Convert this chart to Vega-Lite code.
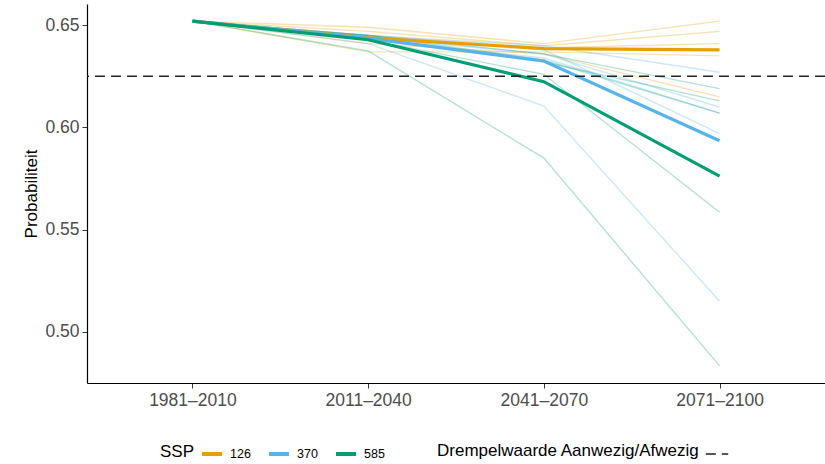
{
  "$schema": "https://vega.github.io/schema/vega-lite/v6.json",
  "width": 738,
  "height": 379,
  "autosize": {"type": "none"},
  "padding": {"left": 87, "top": 4, "right": 0, "bottom": 81},
  "background": "white",
  "config": {
    "view": {"stroke": null},
    "font": "Liberation Sans",
    "axis": {
      "grid": false,
      "domainColor": "#000000",
      "domainWidth": 1.2,
      "tickColor": "#333333",
      "tickSize": 5,
      "tickWidth": 1,
      "labelColor": "#4d4d4d",
      "labelFontSize": 17.5,
      "labelFont": "Liberation Sans",
      "titleFont": "Liberation Sans",
      "titleFontSize": 17,
      "titleFontWeight": "normal",
      "titleColor": "#000000"
    },
    "legend": {
      "titleFont": "Liberation Sans",
      "labelFont": "Liberation Sans",
      "titleFontWeight": "normal",
      "titleColor": "#000000",
      "labelColor": "#000000",
      "titleLimit": 500
    }
  },
  "datasets": {
    "gcm": [
      {"ssp": "126", "model": "126-1", "periode": "1981–2010", "p": 0.652},
      {"ssp": "126", "model": "126-1", "periode": "2011–2040", "p": 0.649},
      {"ssp": "126", "model": "126-1", "periode": "2041–2070", "p": 0.641},
      {"ssp": "126", "model": "126-1", "periode": "2071–2100", "p": 0.652},
      {"ssp": "126", "model": "126-2", "periode": "1981–2010", "p": 0.652},
      {"ssp": "126", "model": "126-2", "periode": "2011–2040", "p": 0.647},
      {"ssp": "126", "model": "126-2", "periode": "2041–2070", "p": 0.640},
      {"ssp": "126", "model": "126-2", "periode": "2071–2100", "p": 0.647},
      {"ssp": "126", "model": "126-3", "periode": "1981–2010", "p": 0.652},
      {"ssp": "126", "model": "126-3", "periode": "2011–2040", "p": 0.645},
      {"ssp": "126", "model": "126-3", "periode": "2041–2070", "p": 0.639},
      {"ssp": "126", "model": "126-3", "periode": "2071–2100", "p": 0.641},
      {"ssp": "126", "model": "126-4", "periode": "1981–2010", "p": 0.652},
      {"ssp": "126", "model": "126-4", "periode": "2011–2040", "p": 0.637},
      {"ssp": "126", "model": "126-4", "periode": "2041–2070", "p": 0.637},
      {"ssp": "126", "model": "126-4", "periode": "2071–2100", "p": 0.635},
      {"ssp": "126", "model": "126-5", "periode": "1981–2010", "p": 0.652},
      {"ssp": "126", "model": "126-5", "periode": "2011–2040", "p": 0.641},
      {"ssp": "126", "model": "126-5", "periode": "2041–2070", "p": 0.636},
      {"ssp": "126", "model": "126-5", "periode": "2071–2100", "p": 0.615},
      {"ssp": "370", "model": "370-1", "periode": "1981–2010", "p": 0.652},
      {"ssp": "370", "model": "370-1", "periode": "2011–2040", "p": 0.645},
      {"ssp": "370", "model": "370-1", "periode": "2041–2070", "p": 0.640},
      {"ssp": "370", "model": "370-1", "periode": "2071–2100", "p": 0.627},
      {"ssp": "370", "model": "370-2", "periode": "1981–2010", "p": 0.652},
      {"ssp": "370", "model": "370-2", "periode": "2011–2040", "p": 0.644},
      {"ssp": "370", "model": "370-2", "periode": "2041–2070", "p": 0.636},
      {"ssp": "370", "model": "370-2", "periode": "2071–2100", "p": 0.610},
      {"ssp": "370", "model": "370-3", "periode": "1981–2010", "p": 0.652},
      {"ssp": "370", "model": "370-3", "periode": "2011–2040", "p": 0.643},
      {"ssp": "370", "model": "370-3", "periode": "2041–2070", "p": 0.634},
      {"ssp": "370", "model": "370-3", "periode": "2071–2100", "p": 0.607},
      {"ssp": "370", "model": "370-4", "periode": "1981–2010", "p": 0.652},
      {"ssp": "370", "model": "370-4", "periode": "2011–2040", "p": 0.645},
      {"ssp": "370", "model": "370-4", "periode": "2041–2070", "p": 0.638},
      {"ssp": "370", "model": "370-4", "periode": "2071–2100", "p": 0.597},
      {"ssp": "370", "model": "370-5", "periode": "1981–2010", "p": 0.652},
      {"ssp": "370", "model": "370-5", "periode": "2011–2040", "p": 0.641},
      {"ssp": "370", "model": "370-5", "periode": "2041–2070", "p": 0.6105},
      {"ssp": "370", "model": "370-5", "periode": "2071–2100", "p": 0.515},
      {"ssp": "585", "model": "585-1", "periode": "1981–2010", "p": 0.652},
      {"ssp": "585", "model": "585-1", "periode": "2011–2040", "p": 0.645},
      {"ssp": "585", "model": "585-1", "periode": "2041–2070", "p": 0.636},
      {"ssp": "585", "model": "585-1", "periode": "2071–2100", "p": 0.619},
      {"ssp": "585", "model": "585-2", "periode": "1981–2010", "p": 0.652},
      {"ssp": "585", "model": "585-2", "periode": "2011–2040", "p": 0.644},
      {"ssp": "585", "model": "585-2", "periode": "2041–2070", "p": 0.632},
      {"ssp": "585", "model": "585-2", "periode": "2071–2100", "p": 0.613},
      {"ssp": "585", "model": "585-3", "periode": "1981–2010", "p": 0.652},
      {"ssp": "585", "model": "585-3", "periode": "2011–2040", "p": 0.643},
      {"ssp": "585", "model": "585-3", "periode": "2041–2070", "p": 0.626},
      {"ssp": "585", "model": "585-3", "periode": "2071–2100", "p": 0.5585},
      {"ssp": "585", "model": "585-4", "periode": "1981–2010", "p": 0.652},
      {"ssp": "585", "model": "585-4", "periode": "2011–2040", "p": 0.6375},
      {"ssp": "585", "model": "585-4", "periode": "2041–2070", "p": 0.585},
      {"ssp": "585", "model": "585-4", "periode": "2071–2100", "p": 0.4834},
      {"ssp": "585", "model": "585-5", "periode": "1981–2010", "p": 0.652},
      {"ssp": "585", "model": "585-5", "periode": "2011–2040", "p": 0.645},
      {"ssp": "585", "model": "585-5", "periode": "2041–2070", "p": 0.633},
      {"ssp": "585", "model": "585-5", "periode": "2071–2100", "p": 0.607}
    ],
    "gemiddelde": [
      {"ssp": "126", "periode": "1981–2010", "p": 0.652},
      {"ssp": "126", "periode": "2011–2040", "p": 0.6438},
      {"ssp": "126", "periode": "2041–2070", "p": 0.6386},
      {"ssp": "126", "periode": "2071–2100", "p": 0.638},
      {"ssp": "370", "periode": "1981–2010", "p": 0.652},
      {"ssp": "370", "periode": "2011–2040", "p": 0.6436},
      {"ssp": "370", "periode": "2041–2070", "p": 0.6325},
      {"ssp": "370", "periode": "2071–2100", "p": 0.5935},
      {"ssp": "585", "periode": "1981–2010", "p": 0.652},
      {"ssp": "585", "periode": "2011–2040", "p": 0.6429},
      {"ssp": "585", "periode": "2041–2070", "p": 0.6224},
      {"ssp": "585", "periode": "2071–2100", "p": 0.5762}
    ],
    "drempel": [
      {"p": 0.625, "label": "Drempelwaarde"}
    ]
  },
  "layer": [
    {
      "data": {"name": "gcm"},
      "mark": {"type": "line", "strokeWidth": 1.4, "opacity": 0.3},
      "encoding": {
        "x": {
          "field": "periode",
          "type": "ordinal",
          "scale": {"type": "point", "padding": 0.6, "domain": ["1981–2010", "2011–2040", "2041–2070", "2071–2100"]},
          "axis": {"title": null, "labelAngle": 0, "labelPadding": 3}
        },
        "y": {
          "field": "p",
          "type": "quantitative",
          "scale": {"domain": [0.475, 0.6604], "nice": false, "zero": false},
          "axis": {"title": "Probabiliteit", "values": [0.5, 0.55, 0.6, 0.65], "format": ".2f", "labelPadding": 3, "titlePadding": 4}
        },
        "color": {
          "field": "ssp",
          "type": "nominal",
          "scale": {"domain": ["126", "370", "585"], "range": ["#E69F00", "#56B4E9", "#009E73"]},
          "legend": {
            "title": "SSP",
            "orient": "none",
            "legendX": 73,
            "legendY": 438,
            "direction": "horizontal",
            "titleOrient": "left",
            "titleFontSize": 17,
            "titleBaseline": "middle",
            "labelFontSize": 12.5,
            "symbolType": "stroke",
            "symbolStrokeWidth": 4,
            "symbolSize": 400,
            "symbolOpacity": 1,
            "columnPadding": 10,
            "labelOffset": 6
          }
        },
        "detail": {"field": "model"}
      }
    },
    {
      "data": {"name": "gemiddelde"},
      "mark": {"type": "line", "strokeWidth": 3.2},
      "encoding": {
        "x": {"field": "periode", "type": "ordinal"},
        "y": {"field": "p", "type": "quantitative"},
        "color": {"field": "ssp", "type": "nominal"}
      }
    },
    {
      "data": {"name": "drempel"},
      "mark": {"type": "rule", "strokeWidth": 1.5, "color": "#222222"},
      "encoding": {
        "y": {"field": "p", "type": "quantitative"},
        "strokeDash": {
          "field": "label",
          "type": "nominal",
          "scale": {"range": [[10, 6]]},
          "legend": {
            "title": "Drempelwaarde Aanwezig/Afwezig",
            "orient": "none",
            "legendX": 350,
            "legendY": 438,
            "direction": "horizontal",
            "titleOrient": "left",
            "titleFontSize": 17,
            "titleBaseline": "middle",
            "titleLimit": 500,
            "labelExpr": "''",
            "symbolType": "stroke",
            "symbolStrokeColor": "#222222",
            "symbolStrokeWidth": 1.5,
            "symbolSize": 500,
            "symbolDash": [7, 5]
          }
        }
      }
    }
  ]
}
